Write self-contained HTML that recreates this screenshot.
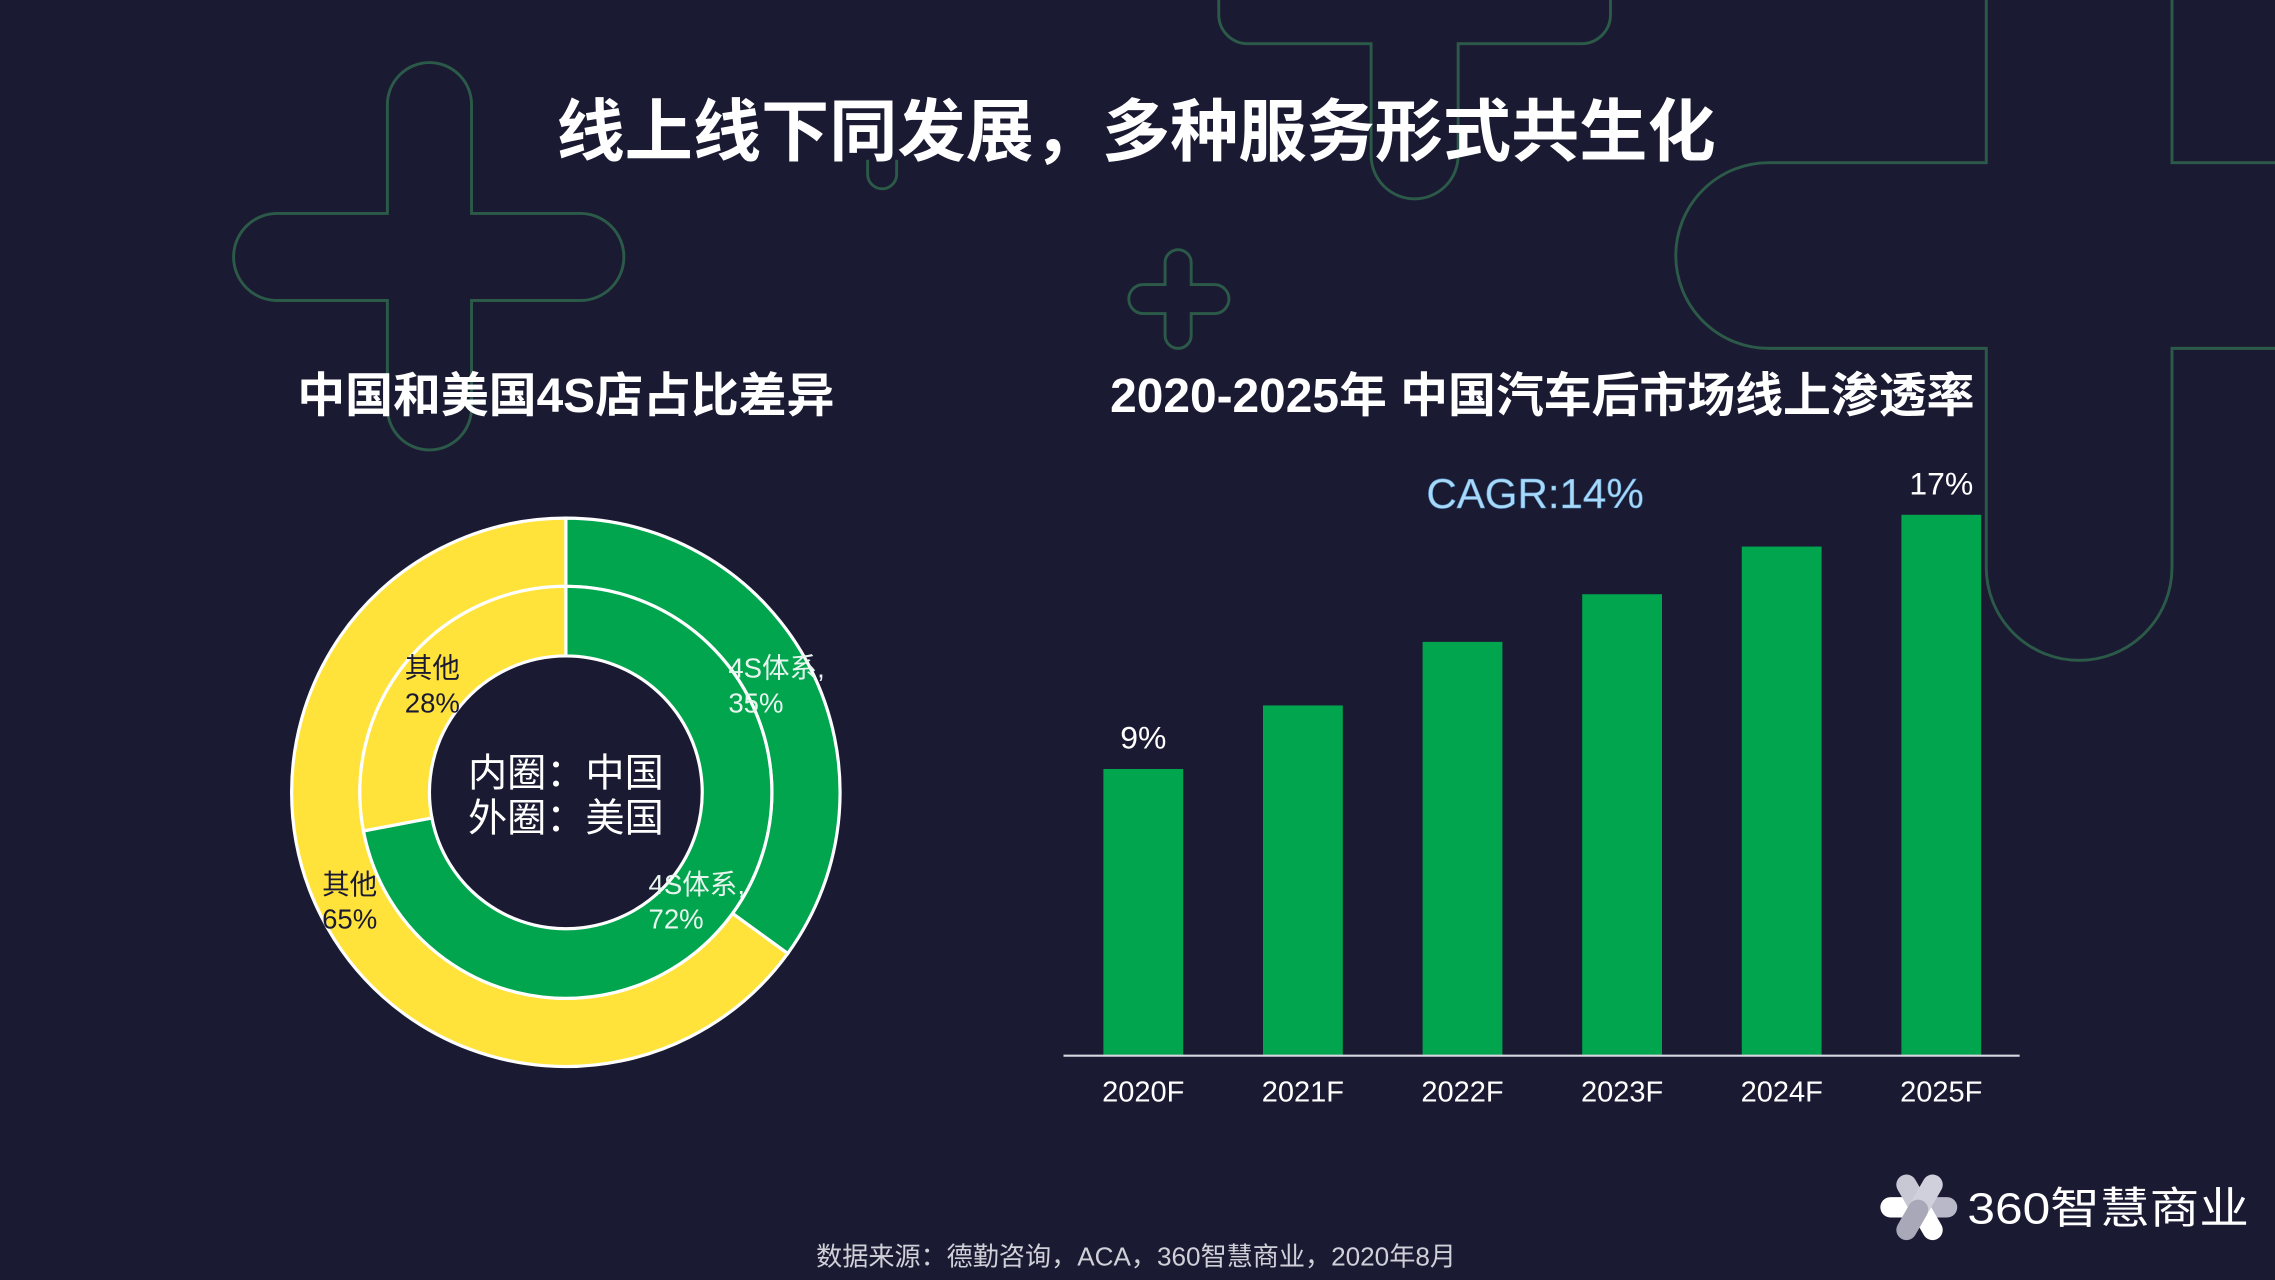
<!DOCTYPE html>
<html><head><meta charset="utf-8">
<style>
html,body{margin:0;padding:0;background:#1b1a33;}
svg{display:block;}
text{font-family:"Liberation Sans","Noto Sans CJK SC",sans-serif;}
</style></head>
<body>
<svg width="2275" height="1280" viewBox="0 0 1568 882" xmlns="http://www.w3.org/2000/svg">
<rect width="1568" height="882" fill="#1b1a33"/>
<g fill="none" stroke="#2c5a48" stroke-width="2">
  <path d="M267,72 a29,29 0 0 1 58,0 V147 H400 a30,30 0 0 1 0,60 H325 V281 a29,29 0 0 1 -58,0 V207 H191 a30,30 0 0 1 0,-60 H267 Z"/>
  <path d="M803,181 a9,9 0 0 1 18,0 V196 H837 a10,10 0 0 1 0,20 H821 V231 a9,9 0 0 1 -18,0 V216 H788 a10,10 0 0 1 0,-20 H803 Z"/>
  <path d="M840,-20 V10 a20,20 0 0 0 20,20 H945 V107 a30,30 0 0 0 60,0 V30 H1090 a20,20 0 0 0 20,-20 V-20"/>
  <path d="M598,110 V120 a10,10 0 0 0 20,0 V110"/>
  <path d="M1369,-5 V112 H1219 a64,64 0 0 0 0,128 H1369 V391 a64,64 0 0 0 128,0 V240 H1575 M1575,112 H1497 V-5"/>
</g>
<text x="783" y="107" text-anchor="middle" font-size="47" font-weight="bold" fill="#ffffff">线上线下同发展，多种服务形式共生化</text>
<text x="390" y="284" text-anchor="middle" font-size="33" font-weight="bold" fill="#ffffff">中国和美国4S店占比差异</text>
<text x="1063" y="284" text-anchor="middle" font-size="33" font-weight="bold" fill="#ffffff">2020-2025年 中国汽车后市场线上渗透率</text>
<g id="donut"></g>
<text x="390" y="542" text-anchor="middle" font-size="27" fill="#ffffff">内圈：中国</text>
<text x="390" y="573" text-anchor="middle" font-size="27" fill="#ffffff">外圈：美国</text>
<g font-size="19">
  <text x="279" y="467" fill="#1b1a33"><tspan x="279">其他</tspan><tspan x="279" dy="24">28%</tspan></text>
  <text x="502" y="467" fill="#e8f5ee"><tspan x="502">4S体系,</tspan><tspan x="502" dy="24">35%</tspan></text>
  <text x="222" y="616" fill="#1b1a33"><tspan x="222">其他</tspan><tspan x="222" dy="24">65%</tspan></text>
  <text x="447" y="616" fill="#e8f5ee"><tspan x="447">4S体系,</tspan><tspan x="447" dy="24">72%</tspan></text>
</g>
<text x="1058" y="350" text-anchor="middle" font-size="29" fill="#a9d9f7" stroke="#5a9ad0" stroke-width="0.4">CAGR:14%</text>
<g id="bars"></g>
<line x1="733" y1="727.5" x2="1392" y2="727.5" stroke="#d8d8e0" stroke-width="1.5"/>
<text x="783" y="872" text-anchor="middle" font-size="18" fill="#d0d0d8">数据来源：德勤咨询，ACA，360智慧商业，2020年8月</text>
<g>
  <g transform="translate(1323,832)">
    <rect x="-27" y="-7" width="30" height="14" rx="7" fill="#ffffff"/>
    <rect x="-4" y="-7" width="30" height="14" rx="7" fill="#b8b8c8"/>
    <rect x="-15" y="-7" width="30" height="14" rx="7" transform="rotate(60) translate(-10,0)" fill="#c8c8d4"/>
    <rect x="-15" y="-7" width="30" height="14" rx="7" transform="rotate(60) translate(10,0)" fill="#ffffff"/>
    <rect x="-15" y="-7" width="30" height="14" rx="7" transform="rotate(-60) translate(10,0)" fill="#d0d0dc"/>
    <rect x="-15" y="-7" width="30" height="14" rx="7" transform="rotate(-60) translate(-10,0)" fill="#a8a8b8"/>
  </g>
  <text x="1356" y="843" font-size="30" fill="#ffffff" textLength="194" lengthAdjust="spacingAndGlyphs">360智慧商业</text>
</g>
</svg>
<script>
var categories=["2020F","2021F","2022F","2023F","2024F","2025F"];
var values=[9,11,13,14.5,16,17];
var valueLabels=["9%","","","","","17%"];
var donutInner=[72,28];
var donutOuter=[35,65];
var donutColors=["#00a54e","#ffe33b"];
var NS="http://www.w3.org/2000/svg";
function yScale(v){return 727-v*21.9;}
function xCenter(i){return 788+i*110;}
var bars=document.getElementById('bars');
for(var i=0;i<categories.length;i++){
  var r=document.createElementNS(NS,'rect');
  r.setAttribute('x',xCenter(i)-27.5);r.setAttribute('y',yScale(values[i]));
  r.setAttribute('width',55);r.setAttribute('height',727-yScale(values[i]));
  r.setAttribute('fill','#00a54e');
  
  
  bars.appendChild(r);
  var t=document.createElementNS(NS,'text');
  t.setAttribute('x',xCenter(i));t.setAttribute('y',759);t.setAttribute('text-anchor','middle');
  t.setAttribute('font-size','20');t.setAttribute('fill','#ffffff');t.textContent=categories[i];
  
  
  bars.appendChild(t);
  if(valueLabels[i]){
    var l=document.createElementNS(NS,'text');
    l.setAttribute('x',xCenter(i));l.setAttribute('y',yScale(values[i])-14);l.setAttribute('text-anchor','middle');
    l.setAttribute('font-size','22');l.setAttribute('fill','#ffffff');l.textContent=valueLabels[i];
    
    
    bars.appendChild(l);
  }
}
var cx=390,cy=546;
function pt(r,a){var t=(a/100)*2*Math.PI-Math.PI/2;return (cx+r*Math.cos(t))+','+(cy+r*Math.sin(t));}
function arc(r0,r1,a0,a1){
  var large=(a1-a0)>50?1:0;
  return 'M'+pt(r1,a0)+' A'+r1+','+r1+' 0 '+large+' 1 '+pt(r1,a1)+' L'+pt(r0,a1)+' A'+r0+','+r0+' 0 '+large+' 0 '+pt(r0,a0)+' Z';
}
var donut=document.getElementById('donut');
function ring(vals,r0,r1,nm){
  var s=0,tot=vals.reduce(function(a,b){return a+b;},0);
  for(var k=0;k<vals.length;k++){
    var a0=s/tot*100,a1=(s+vals[k])/tot*100;s+=vals[k];
    var pth=document.createElementNS(NS,'path');
    pth.setAttribute('d',arc(r0,r1,a0,a1));
    pth.setAttribute('fill',donutColors[k]);pth.setAttribute('stroke','#ffffff');pth.setAttribute('stroke-width','2.2');
    
    
    donut.appendChild(pth);
  }
}
ring(donutOuter,142,189,'outer-ring');
ring(donutInner,94,142,'inner-ring');
</script>
</body></html>
